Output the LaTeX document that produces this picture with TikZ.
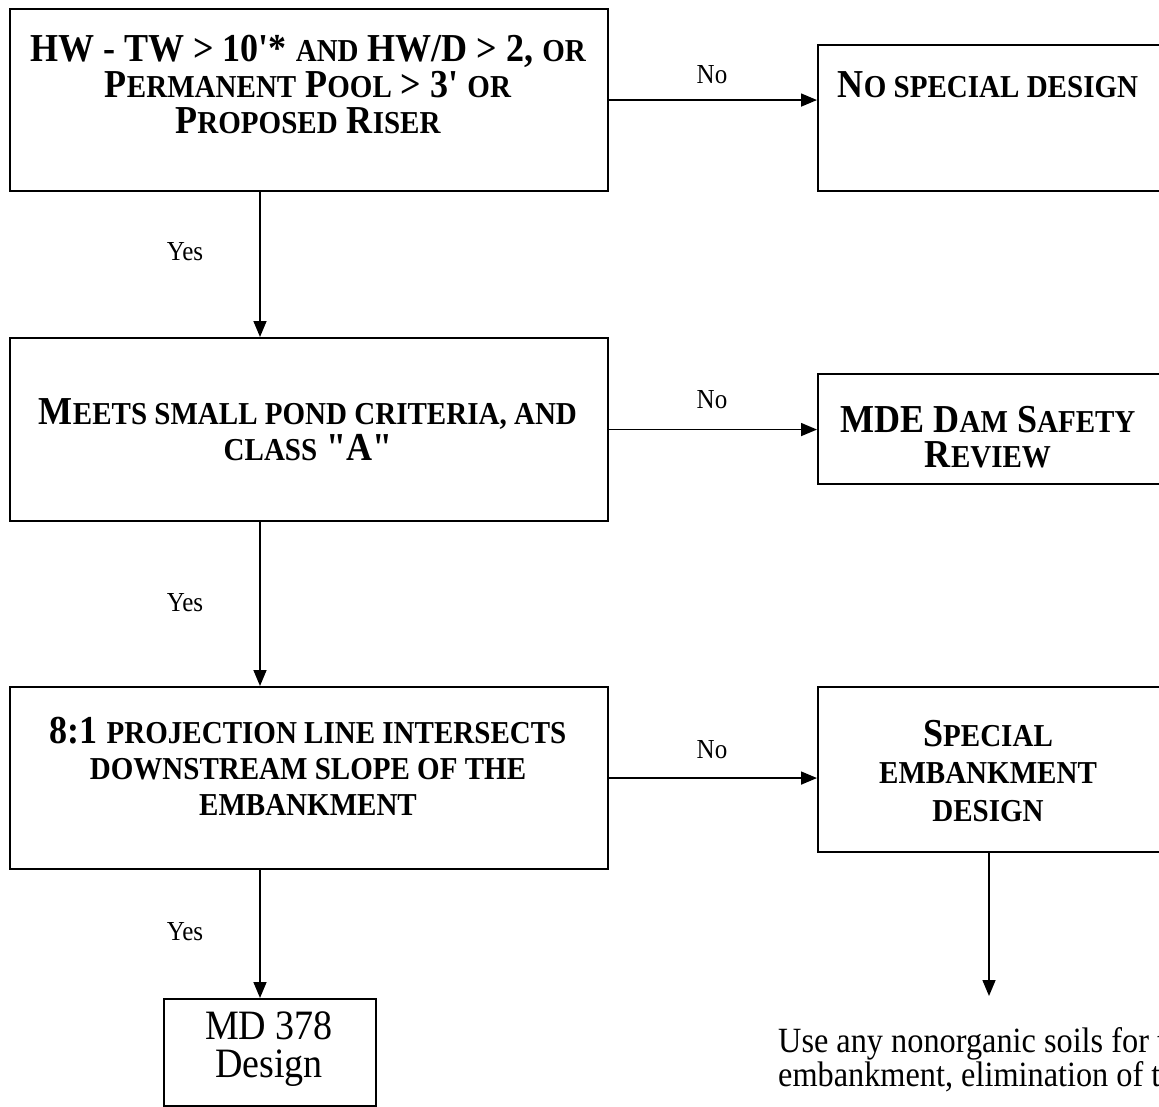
\documentclass[tikz,border=0pt]{standalone}
\usepackage{fontspec}
\setmainfont{Liberation Serif}[FakeStretch=0.91, Ligatures=TeXOff]
\usetikzlibrary{arrows.meta,calc}
\newcommand\smc[1]{{\fontsize{31.9}{36}\selectfont #1}}
\tikzset{
  box/.style={draw, line width=2.1pt, rectangle, inner sep=0pt, anchor=north west},
  btxt/.style={align=center, inner sep=0pt, font=\fontsize{39.6}{36}\selectfont\bfseries},
  lbl/.style={inner sep=0pt, font=\fontsize{27.5}{30}\selectfont},
  arr/.style={line width=1.6pt, -{Triangle[length=16pt,width=13pt]}}
}
\begin{document}
\begin{tikzpicture}[x=1pt,y=-1pt]
\useasboundingbox (0,0) rectangle (1159,1107);
\clip (0,0) rectangle (1159,1107);
\fill[white] (0,0) rectangle (1159,1107);
% boxes
\node[box, minimum width=598pt, minimum height=182pt] (b1) at (9,8) {};
\node[box, minimum width=598pt, minimum height=183pt] (b2) at (9,337) {};
\node[box, minimum width=598pt, minimum height=182pt] (b3) at (9,686) {};
\node[box, minimum width=345pt, minimum height=146pt] (r1) at (817,44) {};
\node[box, minimum width=345pt, minimum height=110pt] (r2) at (817,373) {};
\node[box, minimum width=345pt, minimum height=165pt] (r3) at (817,686) {};
\node[box, minimum width=212pt, minimum height=107pt] (md) at (163,998) {};
% texts
\node[btxt] (t1) at (308,84) {HW - TW > 10'* \smc{AND} HW/D > 2, \smc{OR}\\
  P\smc{ERMANENT} P\smc{OOL} > 3' \smc{OR}\\ P\smc{ROPOSED} R\smc{ISER}};
\node[btxt] (t2) at (308,430) {M\smc{EETS SMALL POND CRITERIA, AND}\\ \smc{CLASS} "A"};
\node[btxt] (t3) at (308,766) {8:1 \smc{PROJECTION LINE INTERSECTS}\\
  \smc{DOWNSTREAM SLOPE OF THE}\\ \smc{EMBANKMENT}};
\node[btxt] (tr1) at (988,85) {N\smc{O SPECIAL DESIGN}};
\node[btxt, font=\fontsize{39.6}{34.5}\selectfont\bfseries] (tr2) at (988,437) {MDE D\smc{AM} S\smc{AFETY}\\ R\smc{EVIEW}};
\node[btxt, font=\fontsize{39.6}{37.5}\selectfont\bfseries] (tr3) at (988,771) {S\smc{PECIAL}\\ \smc{EMBANKMENT}\\ \smc{DESIGN}};
\node[align=center, inner sep=0pt, font=\fontsize{41.8}{38}\selectfont] (tmd) at (269,1049) {MD 378\\ Design};
\node[anchor=north west, align=left, inner sep=0pt, font=\fontsize{35.5}{34}\selectfont] (note) at (778,1027)
  {Use any nonorganic soils for the\\ embankment, elimination of the};
% labels
\node[lbl] (no1) at (712,75) {No};
\node[lbl] (no2) at (712,400) {No};
\node[lbl] (no3) at (712,750) {No};
\node[lbl] (yes1) at (185,252) {Yes};
\node[lbl] (yes2) at (185,603) {Yes};
\node[lbl] (yes3) at (185,932) {Yes};
% connectors
\coordinate (vx) at (260,0);
\coordinate (rx) at (989,996);
\draw[arr] (b1.east) -- (b1.east -| r1.west);
\draw[arr] (b2.east) -- (b2.east -| r2.west);
\draw[arr] (b3.east) -- (b3.east -| r3.west);
\draw[arr] (b1.south -| vx) -- (b2.north -| vx);
\draw[arr] (b2.south -| vx) -- (b3.north -| vx);
\draw[arr] (b3.south -| vx) -- (md.north -| vx);
\draw[arr] (r3.south -| rx) -- (rx);
\end{tikzpicture}
\end{document}
